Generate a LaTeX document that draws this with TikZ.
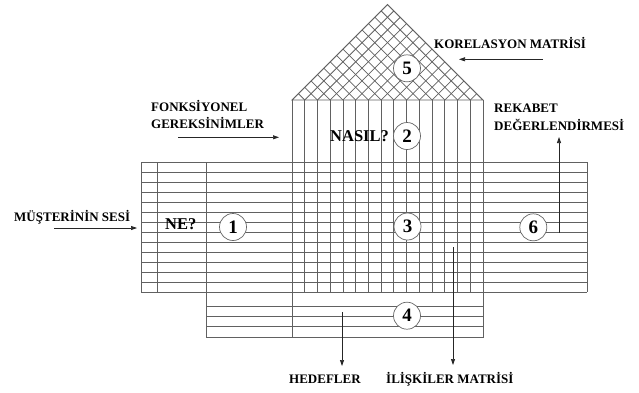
\documentclass[tikz,border=0pt]{standalone}
\usepackage{fontspec}
\setmainfont{Liberation Serif}
\usetikzlibrary{arrows.meta}
\begin{document}
\begin{tikzpicture}[x=1pt,y=-1pt,
  grid/.style={draw=black!62, line width=0.75pt},
  num/.style={circle, draw=black!60, line width=0.7pt, fill=white, minimum size=27pt, inner sep=0pt, font=\fontsize{19}{19}\selectfont\bfseries},
  lbl/.style={inner sep=0pt, anchor=base west, font=\fontsize{13}{13}\selectfont\bfseries},
  big/.style={inner sep=0pt, anchor=base west, font=\fontsize{16.5}{16.5}\selectfont\bfseries},
  arr/.style={draw=black!85, line width=0.7pt, -{Triangle[length=6pt,width=4pt]}}]
\useasboundingbox (0,0) rectangle (639,392);

% roof (correlation matrix)
\begin{scope}
  \clip (292,100) -- (387.5,4.5) -- (483,100) -- cycle;
  \foreach \k in {0,...,15} {
    \draw[grid] (292+12.7333*\k,100) -- ++(-110,-110);
    \draw[grid] (292+12.7333*\k,100) -- ++(110,-110);
  }
\end{scope}
\draw[grid] (292,100) -- (387.5,4.5) -- (483,100) -- cycle;

% columns (functional requirements)
\foreach \k in {0,...,15} {
  \draw[grid] (292+12.7333*\k,100) -- (292+12.7333*\k,292);
}

% main block rows
\foreach \y in {162,172,...,292} {
  \draw[grid] (141,\y) -- (587,\y);
}
\draw[grid] (141,162) -- (141,292);
\draw[grid] (157,162) -- (157,292);
\draw[grid] (206,162) -- (206,337);
\draw[grid] (587,162) -- (587,292);
\draw[grid] (292,292) -- (292,337);

% targets section
\draw[grid] (206,337) -- (483,337) -- (483,292);
\foreach \y in {306,316,326.5} {
  \draw[grid] (206,\y) -- (483,\y);
}

% numbered circles
\node[num] (c1) at (233,227) {1};
\node[num] (c2) at (407,136) {2};
\node[num] (c3) at (407.5,226.5) {3};
\node[num] (c4) at (407,315.7) {4};
\node[num] (c5) at (407,68.3) {5};
\node[num] (c6) at (533.3,227.3) {6};

% texts
\node[big] (ne) at (165,229) {NE?};
\node[big] (nasil) at (330,141.7) {NASIL?};
\node[lbl] (musteri) at (14,221) {MÜŞTERİNİN SESİ};
\node[lbl] (korel) at (434,48.3) {KORELASYON MATRİSİ};
\node[lbl] (rek1) at (494,112.7) {REKABET};
\node[lbl] (rek2) at (494,130) {DEĞERLENDİRMESİ};
\node[lbl] (fonk1) at (151,111.7) {FONKSİYONEL};
\node[lbl] (fonk2) at (151,128.3) {GEREKSİNİMLER};
\node[lbl] (hedef) at (289,383.3) {HEDEFLER};
\node[lbl] (iliski) at (386,383.3) {İLİŞKİLER MATRİSİ};

% arrows
\coordinate (a1s) at (54,228);   \coordinate (a1e) at (137,228);
\coordinate (a2s) at (178,137.3); \coordinate (a2e) at (279,137.3);
\coordinate (a3s) at (543,59.3); \coordinate (a3e) at (459,59.3);
\coordinate (a4s) at (559,233);  \coordinate (a4e) at (559,137);
\coordinate (a5s) at (342,312);  \coordinate (a5e) at (342,366);
\coordinate (a6s) at (453,247);  \coordinate (a6e) at (453,365);
\draw[arr] (a1s) -- (a1e);
\draw[arr] (a2s) -- (a2e);
\draw[arr] (a3s) -- (a3e);
\draw[arr] (a4s) -- (a4e);
\draw[arr] (a5s) -- (a5e);
\draw[arr] (a6s) -- (a6e);
\end{tikzpicture}
\end{document}
